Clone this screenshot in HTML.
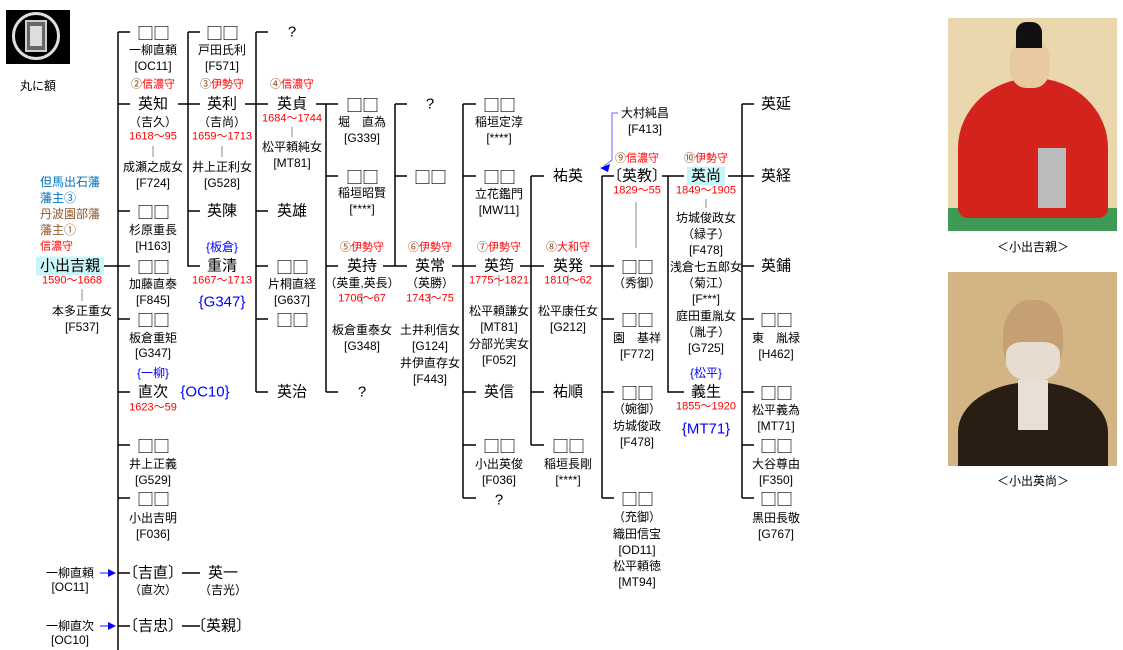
<!DOCTYPE html>
<html><head><meta charset="utf-8">
<style>
body{margin:0;width:1123px;height:650px;position:relative;overflow:hidden;background:#fff;font-family:"Liberation Sans","Noto Sans CJK JP",sans-serif;color:#000}
.t{position:absolute;transform:translate(-50%,-50%);white-space:nowrap;line-height:1}
.n{font-size:15px}
.q{font-size:17px;letter-spacing:-1px;font-family:"Noto Sans CJK JP",sans-serif}
.s{font-size:12px}
.d{font-size:11px;color:#f00}
.b{color:#00f}
.r{font-size:11px;color:#f00}
.r i{font-style:normal;color:#8b4513}
.hl{background:#c8f4fa;padding:2px 4px}
svg{position:absolute;left:0;top:0}
</style></head><body>
<svg width="1123" height="650">
<g stroke="#000" stroke-width="1.5" fill="none">
<path d="M118 32V650"/>
<path d="M118 32H130M118 104H130M118 211H130M118 266H130M118 319H130M118 392H130M118 445H130M118 498H130M118 573H130M118 626H130"/>
<path d="M104 266H118"/>
<path d="M182 573H200M182 626H200"/>
<path d="M188 32V266H200M188 32H200M188 211H200M178 104H200"/>
<path d="M256 32V392M256 32H268M256 211H268M256 266H268M256 319H268M256 392H268M245 104H268"/>
<path d="M316 104H326M326 104V392M326 104H338M326 176H338M326 266H338M326 392H338"/>
<path d="M383 266H407M395 104V266M395 104H407M395 176H407"/>
<path d="M452 266H476M463 104V498M463 104H476M463 176H476M463 392H476M463 445H476M463 498H476"/>
<path d="M520 266H544M531 176V445M531 176H544M531 392H544M531 445H544"/>
<path d="M590 266H614M602 176V498M602 176H614M602 319H614M602 392H614M602 498H614"/>
<path d="M662 176H684M668 176V392H684"/>
<path d="M728 176H754M742 104V498M742 104H754M742 266H754M742 319H754M742 392H754M742 445H754M742 498H754"/>
</g>
<g stroke="#888" stroke-width="1">
<path d="M82 289V301M153 146V157M222 146V157M292 127V137M362 293V304M430 293V304M499 275V286M568 275V286M636 202V248M706 199V208"/>
</g>
<path d="M618 113H612V160L604 166" stroke="#66f" fill="none"/>
<polygon points="600,168 610,164 608,172" fill="#00f"/>
<path d="M100 573H110M100 626H110" stroke="#66f" stroke-width="1.5"/>
<polygon points="108,569 116,573 108,577" fill="#00f"/>
<polygon points="108,622 116,626 108,630" fill="#00f"/>
</svg>

<div style="position:absolute;left:6px;top:10px;width:64px;height:54px;background:#000"></div>
<div style="position:absolute;left:12px;top:12px;width:48px;height:48px;border-radius:50%;border:3px solid #ddd;box-sizing:border-box"></div>
<div style="position:absolute;left:25px;top:20px;width:22px;height:32px;border:2px solid #ccc;box-sizing:border-box;background:#666"></div>
<div style="position:absolute;left:30px;top:26px;width:12px;height:20px;background:#ddd"></div>
<div class="t s" style="left:38px;top:86px">丸に額</div>

<div class="t s" style="left:70px;top:182px;color:#0070c0">但馬出石藩</div>
<div class="t s" style="left:40px;top:198px;color:#0070c0;transform:translate(0,-50%)">藩主③</div>
<div class="t s" style="left:70px;top:214px;color:#8b5a2b">丹波園部藩</div>
<div class="t s" style="left:40px;top:230px;color:#8b5a2b;transform:translate(0,-50%)">藩主①</div>
<div class="t s" style="left:40px;top:247px;color:#f00;transform:translate(0,-50%);font-size:11px">信濃守</div>
<div class="t n hl" style="left:70px;top:266px">小出吉親</div>
<div class="t d" style="left:72px;top:281px">1590〜1668</div>
<div class="t s" style="left:82px;top:311px">本多正重女</div>
<div class="t s" style="left:82px;top:327px">[F537]</div>

<div class="t q" style="left:153px;top:32px">□□</div>
<div class="t s" style="left:153px;top:50px">一柳直頼</div>
<div class="t s" style="left:153px;top:66px">[OC11]</div>
<div class="t r" style="left:153px;top:85px"><i>②</i>信濃守</div>
<div class="t n" style="left:153px;top:104px">英知</div>
<div class="t s" style="left:153px;top:122px">（吉久）</div>
<div class="t d" style="left:153px;top:137px">1618〜95</div>
<div class="t s" style="left:153px;top:167px">成瀬之成女</div>
<div class="t s" style="left:153px;top:183px">[F724]</div>
<div class="t q" style="left:153px;top:211px">□□</div>
<div class="t s" style="left:153px;top:230px">杉原重長</div>
<div class="t s" style="left:153px;top:246px">[H163]</div>
<div class="t q" style="left:153px;top:266px">□□</div>
<div class="t s" style="left:153px;top:284px">加藤直泰</div>
<div class="t s" style="left:153px;top:300px">[F845]</div>
<div class="t q" style="left:153px;top:319px">□□</div>
<div class="t s" style="left:153px;top:338px">板倉重矩</div>
<div class="t s" style="left:153px;top:353px">[G347]</div>
<div class="t s b" style="left:153px;top:373px">{一柳}</div>
<div class="t n" style="left:153px;top:392px">直次</div>
<div class="t n b" style="left:205px;top:392px">{OC10}</div>
<div class="t d" style="left:153px;top:408px">1623〜59</div>
<div class="t q" style="left:153px;top:445px">□□</div>
<div class="t s" style="left:153px;top:464px">井上正義</div>
<div class="t s" style="left:153px;top:480px">[G529]</div>
<div class="t q" style="left:153px;top:498px">□□</div>
<div class="t s" style="left:153px;top:518px">小出吉明</div>
<div class="t s" style="left:153px;top:534px">[F036]</div>
<div class="t s" style="left:70px;top:573px">一柳直頼</div>
<div class="t s" style="left:70px;top:587px">[OC11]</div>
<div class="t n" style="left:153px;top:573px">〔吉直〕</div>
<div class="t s" style="left:153px;top:590px">（直次）</div>
<div class="t n" style="left:223px;top:573px">英一</div>
<div class="t s" style="left:223px;top:590px">（吉光）</div>
<div class="t s" style="left:70px;top:626px">一柳直次</div>
<div class="t s" style="left:70px;top:640px">[OC10]</div>
<div class="t n" style="left:153px;top:626px">〔吉忠〕</div>
<div class="t n" style="left:221px;top:626px">〔英親〕</div>

<div class="t q" style="left:222px;top:32px">□□</div>
<div class="t s" style="left:222px;top:50px">戸田氏利</div>
<div class="t s" style="left:222px;top:66px">[F571]</div>
<div class="t r" style="left:222px;top:85px"><i>③</i>伊勢守</div>
<div class="t n" style="left:222px;top:104px">英利</div>
<div class="t s" style="left:222px;top:122px">（吉尚）</div>
<div class="t d" style="left:222px;top:137px">1659〜1713</div>
<div class="t s" style="left:222px;top:167px">井上正利女</div>
<div class="t s" style="left:222px;top:183px">[G528]</div>
<div class="t n" style="left:222px;top:211px">英陳</div>
<div class="t s b" style="left:222px;top:247px">{板倉}</div>
<div class="t n" style="left:222px;top:266px">重清</div>
<div class="t d" style="left:222px;top:281px">1667〜1713</div>
<div class="t n b" style="left:222px;top:302px">{G347}</div>

<div class="t n" style="left:292px;top:32px">?</div>
<div class="t r" style="left:292px;top:85px"><i>④</i>信濃守</div>
<div class="t n" style="left:292px;top:104px">英貞</div>
<div class="t d" style="left:292px;top:119px">1684〜1744</div>
<div class="t s" style="left:292px;top:147px">松平頼純女</div>
<div class="t s" style="left:292px;top:163px">[MT81]</div>
<div class="t n" style="left:292px;top:211px">英雄</div>
<div class="t q" style="left:292px;top:266px">□□</div>
<div class="t s" style="left:292px;top:284px">片桐直経</div>
<div class="t s" style="left:292px;top:300px">[G637]</div>
<div class="t q" style="left:292px;top:319px">□□</div>
<div class="t n" style="left:292px;top:392px">英治</div>

<div class="t q" style="left:362px;top:104px">□□</div>
<div class="t s" style="left:362px;top:122px">堀　直為</div>
<div class="t s" style="left:362px;top:138px">[G339]</div>
<div class="t q" style="left:362px;top:176px">□□</div>
<div class="t s" style="left:362px;top:193px">稲垣昭賢</div>
<div class="t s" style="left:362px;top:209px">[****]</div>
<div class="t r" style="left:362px;top:248px"><i>⑤</i>伊勢守</div>
<div class="t n" style="left:362px;top:266px">英持</div>
<div class="t s" style="left:362px;top:283px">（英重,英長）</div>
<div class="t d" style="left:362px;top:299px">1706〜67</div>
<div class="t s" style="left:362px;top:330px">板倉重泰女</div>
<div class="t s" style="left:362px;top:346px">[G348]</div>
<div class="t n" style="left:362px;top:392px">?</div>

<div class="t n" style="left:430px;top:104px">?</div>
<div class="t q" style="left:430px;top:176px">□□</div>
<div class="t r" style="left:430px;top:248px"><i>⑥</i>伊勢守</div>
<div class="t n" style="left:430px;top:266px">英常</div>
<div class="t s" style="left:430px;top:283px">（英勝）</div>
<div class="t d" style="left:430px;top:299px">1743〜75</div>
<div class="t s" style="left:430px;top:330px">土井利信女</div>
<div class="t s" style="left:430px;top:346px">[G124]</div>
<div class="t s" style="left:430px;top:363px">井伊直存女</div>
<div class="t s" style="left:430px;top:379px">[F443]</div>

<div class="t q" style="left:499px;top:104px">□□</div>
<div class="t s" style="left:499px;top:122px">稲垣定淳</div>
<div class="t s" style="left:499px;top:138px">[****]</div>
<div class="t q" style="left:499px;top:176px">□□</div>
<div class="t s" style="left:499px;top:194px">立花鑑門</div>
<div class="t s" style="left:499px;top:210px">[MW11]</div>
<div class="t r" style="left:499px;top:248px"><i>⑦</i>伊勢守</div>
<div class="t n" style="left:499px;top:266px">英筠</div>
<div class="t d" style="left:499px;top:281px">1775〜1821</div>
<div class="t s" style="left:499px;top:311px">松平頼謙女</div>
<div class="t s" style="left:499px;top:327px">[MT81]</div>
<div class="t s" style="left:499px;top:344px">分部光実女</div>
<div class="t s" style="left:499px;top:360px">[F052]</div>
<div class="t n" style="left:499px;top:392px">英信</div>
<div class="t q" style="left:499px;top:445px">□□</div>
<div class="t s" style="left:499px;top:464px">小出英俊</div>
<div class="t s" style="left:499px;top:480px">[F036]</div>
<div class="t n" style="left:499px;top:500px">?</div>

<div class="t n" style="left:568px;top:176px">祐英</div>
<div class="t r" style="left:568px;top:248px"><i>⑧</i>大和守</div>
<div class="t n" style="left:568px;top:266px">英発</div>
<div class="t d" style="left:568px;top:281px">1810〜62</div>
<div class="t s" style="left:568px;top:311px">松平康任女</div>
<div class="t s" style="left:568px;top:327px">[G212]</div>
<div class="t n" style="left:568px;top:392px">祐順</div>
<div class="t q" style="left:568px;top:445px">□□</div>
<div class="t s" style="left:568px;top:464px">稲垣長剛</div>
<div class="t s" style="left:568px;top:480px">[****]</div>

<div class="t s" style="left:645px;top:113px">大村純昌</div>
<div class="t s" style="left:645px;top:129px">[F413]</div>
<div class="t r" style="left:637px;top:159px"><i>⑨</i>信濃守</div>
<div class="t n" style="left:637px;top:176px">〔英教〕</div>
<div class="t d" style="left:637px;top:191px">1829〜55</div>
<div class="t q" style="left:637px;top:266px">□□</div>
<div class="t s" style="left:637px;top:283px">（秀御）</div>
<div class="t q" style="left:637px;top:319px">□□</div>
<div class="t s" style="left:637px;top:338px">園　基祥</div>
<div class="t s" style="left:637px;top:354px">[F772]</div>
<div class="t q" style="left:637px;top:392px">□□</div>
<div class="t s" style="left:637px;top:409px">（婉御）</div>
<div class="t s" style="left:637px;top:426px">坊城俊政</div>
<div class="t s" style="left:637px;top:442px">[F478]</div>
<div class="t q" style="left:637px;top:498px">□□</div>
<div class="t s" style="left:637px;top:517px">（充御）</div>
<div class="t s" style="left:637px;top:534px">織田信宝</div>
<div class="t s" style="left:637px;top:550px">[OD11]</div>
<div class="t s" style="left:637px;top:566px">松平頼徳</div>
<div class="t s" style="left:637px;top:582px">[MT94]</div>

<div class="t r" style="left:706px;top:159px"><i>⑩</i>伊勢守</div>
<div class="t n hl" style="left:706px;top:176px">英尚</div>
<div class="t d" style="left:706px;top:191px">1849〜1905</div>
<div class="t s" style="left:706px;top:218px">坊城俊政女</div>
<div class="t s" style="left:706px;top:234px">（緑子）</div>
<div class="t s" style="left:706px;top:250px">[F478]</div>
<div class="t s" style="left:706px;top:267px">浅倉七五郎女</div>
<div class="t s" style="left:706px;top:283px">（菊江）</div>
<div class="t s" style="left:706px;top:299px">[F***]</div>
<div class="t s" style="left:706px;top:316px">庭田重胤女</div>
<div class="t s" style="left:706px;top:332px">（胤子）</div>
<div class="t s" style="left:706px;top:348px">[G725]</div>
<div class="t s b" style="left:706px;top:373px">{松平}</div>
<div class="t n" style="left:706px;top:392px">義生</div>
<div class="t d" style="left:706px;top:407px">1855〜1920</div>
<div class="t n b" style="left:706px;top:429px">{MT71}</div>

<div class="t n" style="left:776px;top:104px">英延</div>
<div class="t n" style="left:776px;top:176px">英経</div>
<div class="t n" style="left:776px;top:266px">英鋪</div>
<div class="t q" style="left:776px;top:319px">□□</div>
<div class="t s" style="left:776px;top:338px">東　胤禄</div>
<div class="t s" style="left:776px;top:354px">[H462]</div>
<div class="t q" style="left:776px;top:392px">□□</div>
<div class="t s" style="left:776px;top:410px">松平義為</div>
<div class="t s" style="left:776px;top:426px">[MT71]</div>
<div class="t q" style="left:776px;top:445px">□□</div>
<div class="t s" style="left:776px;top:464px">大谷尊由</div>
<div class="t s" style="left:776px;top:480px">[F350]</div>
<div class="t q" style="left:776px;top:498px">□□</div>
<div class="t s" style="left:776px;top:518px">黒田長敬</div>
<div class="t s" style="left:776px;top:534px">[G767]</div>

<div style="position:absolute;left:948px;top:18px;width:169px;height:213px;background:#ead7ad;overflow:hidden">
  <div style="position:absolute;left:0;top:190px;width:169px;height:23px;background:#3f9a55"></div>
  <div style="position:absolute;left:10px;top:60px;width:150px;height:140px;background:#d4221c;border-radius:50% 50% 10px 10px"></div>
  <div style="position:absolute;left:62px;top:22px;width:40px;height:48px;background:#e8c9a0;border-radius:40%"></div>
  <div style="position:absolute;left:68px;top:4px;width:26px;height:26px;background:#111;border-radius:40% 40% 0 0"></div>
  <div style="position:absolute;left:90px;top:130px;width:28px;height:60px;background:#bbb"></div>
</div>
<div class="t s" style="left:1033px;top:247px">＜小出吉親＞</div>
<div style="position:absolute;left:948px;top:272px;width:169px;height:194px;background:#d2b485;overflow:hidden">
  <div style="position:absolute;left:55px;top:28px;width:60px;height:80px;background:#c79f74;border-radius:45%"></div>
  <div style="position:absolute;left:58px;top:70px;width:54px;height:40px;background:#e6ddd0;border-radius:30% 30% 50% 50%"></div>
  <div style="position:absolute;left:10px;top:110px;width:150px;height:100px;background:#2a1d14;border-radius:50% 50% 0 0"></div>
  <div style="position:absolute;left:70px;top:108px;width:30px;height:50px;background:#e8e0d4"></div>
</div>
<div class="t s" style="left:1033px;top:481px">＜小出英尚＞</div>
</body></html>
